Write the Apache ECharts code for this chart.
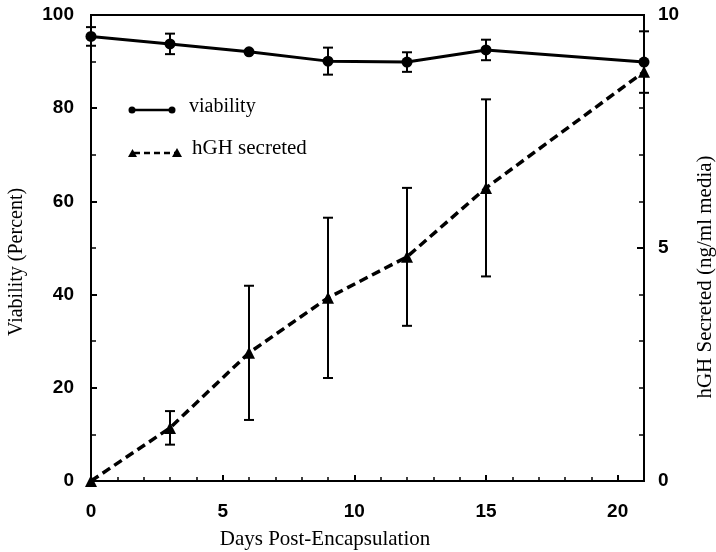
<!DOCTYPE html>
<html>
<head>
<meta charset="utf-8">
<script src="https://cdn.jsdelivr.net/npm/echarts@6/dist/echarts.min.js"></script>
<style>html,body{margin:0;padding:0;background:#fff;}#c{width:716px;height:552px;}</style>
</head>
<body>
<div id="c"></div>
<script>
// ---- data ----
var days = [0, 3, 6, 9, 12, 15, 21];
var viability = [95.4, 93.8, 92.1, 90.1, 89.9, 92.5, 89.9];
var viabilityErr = [2.0, 2.2, 0, 2.9, 2.1, 2.2, 6.6];
var hgh = [0, 1.14, 2.75, 3.93, 4.81, 6.29, 8.78];
var hghErr = [0, 0.36, 1.44, 1.72, 1.48, 1.90, 0];
var xTicks = [0, 5, 10, 15, 20];
var leftTicks = [0, 20, 40, 60, 80, 100];
var rightTicks = [0, 5, 10];

var serif = '"Liberation Serif", "DejaVu Serif", serif';
var sans = '"Liberation Sans", Arial, sans-serif';

function pairs(xs, ys) { return xs.map(function (x, i) { return [x, ys[i]]; }); }
function errData(xs, ys, es) {
  var out = [];
  xs.forEach(function (x, i) { if (es[i] > 0) out.push([x, ys[i] - es[i], ys[i] + es[i]]); });
  return out;
}
function errRender(params, api) {
  var x = api.value(0);
  var lo = api.coord([x, api.value(1)]);
  var hi = api.coord([x, api.value(2)]);
  var w = 5;
  var st = { stroke: '#000', lineWidth: 2 };
  return {
    type: 'group',
    children: [
      { type: 'line', shape: { x1: lo[0], y1: lo[1], x2: hi[0], y2: hi[1] }, style: st },
      { type: 'line', shape: { x1: lo[0] - w, y1: lo[1], x2: lo[0] + w, y2: lo[1] }, style: st },
      { type: 'line', shape: { x1: hi[0] - w, y1: hi[1], x2: hi[0] + w, y2: hi[1] }, style: st }
    ]
  };
}

var chart = echarts.init(document.getElementById('c'));
var axisLine = { show: true, lineStyle: { color: '#000', width: 2 } };
var labelStyle = { color: '#000', fontFamily: sans, fontWeight: 'bold', fontSize: 19 };

chart.setOption({
  backgroundColor: '#fff',
  animation: false,
  grid: { left: 91, right: 72, top: 15, bottom: 71, show: true, borderColor: '#000', borderWidth: 2 },
  xAxis: {
    type: 'value', min: 0, max: 21, interval: 5,
    axisLine: axisLine,
    axisTick: { show: true, inside: true, length: 6, lineStyle: { color: '#000', width: 2 } },
    minorTick: { show: true, splitNumber: 5, length: 4, lineStyle: { color: '#000', width: 1.5 } },
    splitLine: { show: false },
    axisLabel: Object.assign({ margin: 21, showMaxLabel: false }, labelStyle)
  },
  yAxis: [
    {
      type: 'value', min: 0, max: 100, interval: 20, position: 'left',
      axisLine: axisLine,
      axisTick: { show: true, inside: true, length: 6, lineStyle: { color: '#000', width: 2 } },
      minorTick: { show: true, splitNumber: 2, length: 5, lineStyle: { color: '#000', width: 1.5 } },
      splitLine: { show: false },
      axisLabel: Object.assign({ margin: 17 }, labelStyle)
    },
    {
      type: 'value', min: 0, max: 10, interval: 5, position: 'right',
      axisLine: axisLine,
      axisTick: { show: true, inside: true, length: 7, lineStyle: { color: '#000', width: 2 } },
      minorTick: { show: true, splitNumber: 5, length: 5, lineStyle: { color: '#000', width: 1.5 } },
      splitLine: { show: false },
      axisLabel: Object.assign({ margin: 14 }, labelStyle)
    }
  ],
  series: [
    {
      name: 'viability error', type: 'custom', yAxisIndex: 0, renderItem: errRender,
      data: errData(days, viability, viabilityErr), z: 3
    },
    {
      name: 'hGH error', type: 'custom', yAxisIndex: 1, renderItem: errRender,
      data: errData(days, hgh, hghErr), z: 3
    },
    {
      name: 'viability', type: 'line', yAxisIndex: 0, data: pairs(days, viability),
      symbol: 'circle', symbolSize: 11,
      lineStyle: { color: '#000', width: 3 }, itemStyle: { color: '#000' }, z: 4
    },
    {
      name: 'hGH secreted', type: 'line', yAxisIndex: 1, data: pairs(days, hgh),
      symbol: 'triangle', symbolSize: 12,
      lineStyle: { color: '#000', width: 3.5, type: [9, 5] }, itemStyle: { color: '#000' }, z: 4
    }
  ],
  graphic: [
    { type: 'line', shape: { x1: 132, y1: 110, x2: 172, y2: 110 }, style: { stroke: '#000', lineWidth: 2.5 } },
    { type: 'circle', shape: { cx: 132, cy: 110, r: 3.5 }, style: { fill: '#000' } },
    { type: 'circle', shape: { cx: 172, cy: 110, r: 3.5 }, style: { fill: '#000' } },
    { type: 'text', x: 189, y: 107, style: { text: 'viability', fill: '#000', font: '20px ' + serif, textVerticalAlign: 'middle' } },
    { type: 'line', shape: { x1: 134, y1: 153, x2: 178, y2: 153 }, style: { stroke: '#000', lineWidth: 2.5, lineDash: [6, 4] } },
    { type: 'polygon', shape: { points: [[128, 157], [137, 157], [132.5, 149]] }, style: { fill: '#000' } },
    { type: 'polygon', shape: { points: [[172, 157], [182, 157], [177, 148]] }, style: { fill: '#000' } },
    { type: 'text', x: 192, y: 148, style: { text: 'hGH secreted', fill: '#000', font: '21px ' + serif, textVerticalAlign: 'middle' } },
    { type: 'text', x: 325, y: 539, style: { text: 'Days Post-Encapsulation', fill: '#000', font: '21px ' + serif, textAlign: 'center', textVerticalAlign: 'middle' } },
    { type: 'text', x: 17, y: 262, rotation: Math.PI / 2, style: { text: 'Viability (Percent)', fill: '#000', font: '20px ' + serif, textAlign: 'center', textVerticalAlign: 'middle' } },
    { type: 'text', x: 705, y: 277, rotation: Math.PI / 2, style: { text: 'hGH Secreted (ng/ml media)', fill: '#000', font: '21px ' + serif, textAlign: 'center', textVerticalAlign: 'middle' } }
  ]
});
</script>
</body>
</html>
